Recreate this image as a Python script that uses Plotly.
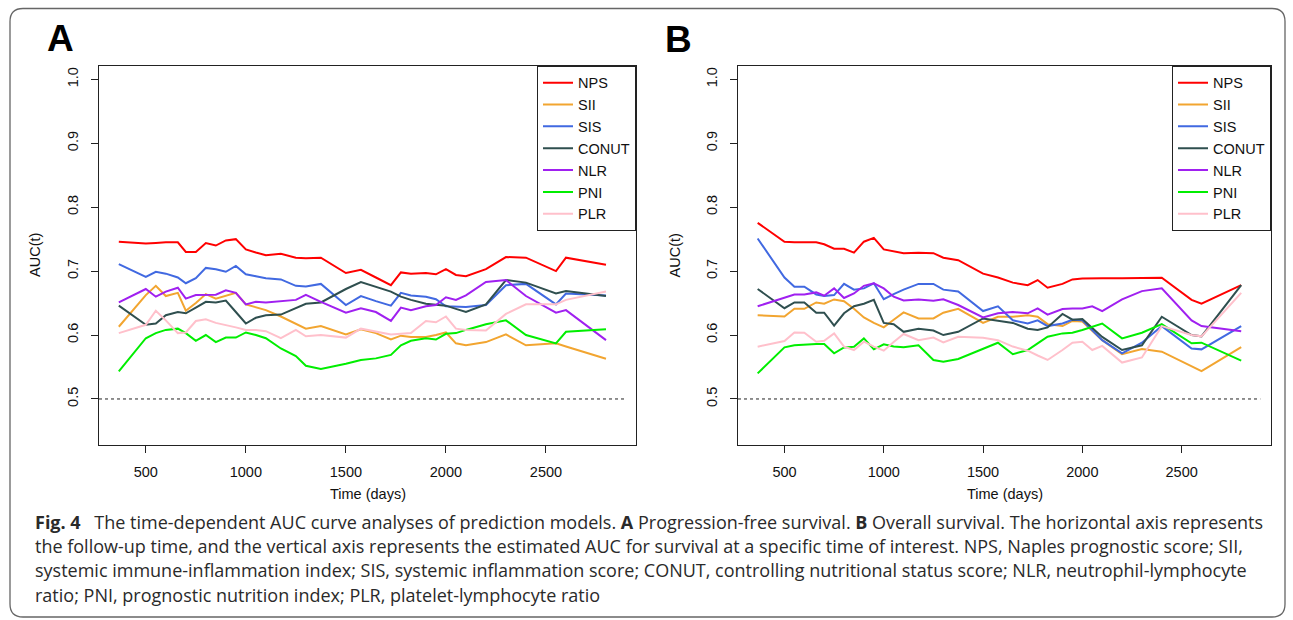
import plotly.graph_objects as go

# ---------------- data ----------------
TIMES = [365, 500, 550, 600, 660, 700, 750, 800, 850, 900, 950, 1000, 1050, 1100, 1175,
         1250, 1300, 1375, 1500, 1575, 1650, 1725, 1775, 1825, 1900, 1950, 2000, 2050,
         2100, 2200, 2300, 2400, 2550, 2600, 2800]

SERIES = ["NPS", "SII", "SIS", "CONUT", "NLR", "PNI", "PLR"]
COLORS = ["#FF0000", "#F2A530", "#4169E1", "#2F4F4F", "#A020F0", "#00EE00", "#FFC0CB"]

# Panel A: progression-free survival
NPS_A = [.746, .743, .744, .745, .745, .730, .730, .744, .740, .748, .750, .734, .729, .725, .727,
         .721, .720, .721, .697, .702, .690, .678, .698, .696, .697, .695, .703, .694,
         .692, .703, .722, .721, .700, .721, .710]
SII_A = [.613, .6625, .677, .661, .666, .638, .650, .664, .657, .662, .666, .648, .643, .639, .629,
         .617, .610, .614, .601, .609, .603, .593, .599, .597, .597, .600, .604, .587,
         .584, .589, .601, .584, .587, .582, .563]
SIS_A = [.711, .691, .699, .696, .690, .681, .689, .705, .703, .699, .708, .695, .692, .689, .687,
         .677, .676, .680, .647, .661, .653, .646, .666, .662, .660, .656, .645, .644,
         .644, .647, .678, .680, .648, .665, .662]
CONUT_A = [.646, .616, .618, .631, .636, .634, .643, .652, .651, .654, .636, .618, .627, .631, .632,
           .642, .649, .651, .672, .683, .675, .668, .660, .655, .649, .647, .646, .641,
           .636, .648, .686, .682, .665, .669, .661]
NLR_A = [.651, .672, .660, .668, .674, .657, .6625, .663, .663, .670, .666, .648, .652, .651, .653,
         .655, .663, .652, .635, .642, .636, .622, .643, .639, .645, .647, .659, .655,
         .662, .683, .686, .661, .635, .639, .592]
PNI_A = [.543, .595, .603, .608, .610, .603, .591, .600, .589, .596, .596, .604, .600, .595, .579,
         .567, .552, .547, .555, .561, .5635, .569, .584, .591, .595, .593, .602, .603,
         .608, .617, .623, .600, .587, .605, .609]
PLR_A = [.603, .616, .638, .623, .603, .604, .622, .6245, .619, .616, .612, .608, .608, .606, .595,
         .608, .598, .600, .596, .610, .605, .601, .602, .603, .622, .620, .629, .610,
         .608, .607, .633, .648, .648, .655, .668]

# Panel B: overall survival
NPS_B = [.7755, .746, .745, .745, .745, .742, .735, .735, .729, .746, .752, .734, .731, .728, .7286,
         .728, .721, .717, .696, .690, .682, .678, .686, .674, .680, .687, .6885, .689,
         .689, .689, .6895, .6896, .655, .649, .678]
SII_B = [.631, .629, .641, .641, .651, .649, .6557, .653, .641, .6276, .619, .612, .624, .6354, .626,
         .626, .635, .641, .619, .6286, .6286, .631, .6286, .617, .614, .622, .621, .606,
         .592, .570, .578, .574, .551, .5437, .581]
SIS_B = [.751, .690, .6755, .6755, .6635, .661, .6625, .680, .671, .673, .681, .656, .664, .671, .680,
         .680, .671, .668, .6375, .645, .623, .618, .623, .614, .618, .624, .623, .607,
         .592, .5714, .588, .614, .579, .5776, .614]
CONUT_B = [.672, .642, .651, .651, .635, .635, .6146, .634, .645, .649, .655, .619, .617, .605, .610,
           .607, .600, .605, .626, .622, .619, .610, .608, .612, .633, .624, .625, .611,
           .597, .5766, .584, .6286, .600, .598, .678]
NLR_B = [.645, .658, .6635, .6635, .6667, .6615, .673, .658, .665, .677, .681, .673, .660, .654, .6557,
         .6536, .656, .647, .6276, .634, .636, .634, .6417, .632, .6406, .6417, .6417, .645,
         .6375, .6557, .6687, .673, .623, .614, .606]
PNI_B = [.540, .5807, .584, .5854, .586, .586, .5714, .5807, .5818, .5948, .5776, .5854, .582, .581, .584,
         .561, .5583, .5625, .579, .588, .570, .5766, .587, .5974, .6026, .6036, .6078, .613,
         .618, .5948, .6036, .617, .587, .588, .560]
PLR_B = [.5818, .5906, .604, .6036, .5896, .591, .6026, .5818, .5766, .5896, .5818, .5755, .589, .6016, .592,
         .596, .5885, .5974, .5958, .592, .582, .5755, .568, .561, .5766, .588, .5896, .5766,
         .583, .557, .565, .614, .600, .598, .666]

PANEL_A = [NPS_A, SII_A, SIS_A, CONUT_A, NLR_A, PNI_A, PLR_A]
PANEL_B = [NPS_B, SII_B, SIS_B, CONUT_B, NLR_B, PNI_B, PLR_B]

X_TICKS = [500, 1000, 1500, 2000, 2500]
Y_TICKS = [0.5, 0.6, 0.7, 0.8, 0.9, 1.0]
Y_TICK_LABELS = ["0.5", "0.6", "0.7", "0.8", "0.9", "1.0"]
REF_AUC = 0.5

CAPTION = [
    "<b>Fig. 4</b>\u2002 The time-dependent AUC curve analyses of prediction models. <b>A</b> Progression-free survival. <b>B</b> Overall survival. The horizontal axis represents",
    "the follow-up time, and the vertical axis represents the estimated AUC for survival at a specific time of interest. NPS, Naples prognostic score; SII,",
    "systemic immune-inflammation index; SIS, systemic inflammation score; CONUT, controlling nutritional status score; NLR, neutrophil-lymphocyte",
    "ratio; PNI, prognostic nutrition index; PLR, platelet-lymphocyte ratio",
]

# ---------------- layout helpers ----------------
W, H = 1293, 620
def px(x):
    return x / W
def py(y):
    return 1 - y / H

FONT = "Liberation Sans, Arial, sans-serif"
CAP_FONT = "Open Sans, Noto Sans, sans-serif"

fig = go.Figure()
for panel, (data, xa, ya, leg) in enumerate([(PANEL_A, "x", "y", "legend"), (PANEL_B, "x2", "y2", "legend2")]):
    for name, color, vals in zip(SERIES, COLORS, data):
        fig.add_trace(go.Scatter(
            x=TIMES, y=vals, mode="lines", name=name,
            line=dict(color=color, width=2),
            xaxis=xa, yaxis=ya, legend=leg, hoverinfo="skip"))

axis_common = dict(showline=True, linecolor="#222", linewidth=1, mirror=True,
                   ticks="outside", ticklen=7, tickwidth=1, tickcolor="#222",
                   showgrid=False, zeroline=False,
                   tickfont=dict(family=FONT, size=14.5, color="#111"))
XR = [266, 2950]
YR = [0.428, 1.0213]
YDOM = [py(445), py(65.7)]

fig.update_layout(
    width=W, height=H, margin=dict(l=0, r=0, t=0, b=0),
    paper_bgcolor="white", plot_bgcolor="white",
    xaxis=dict(domain=[px(99), px(636)], range=XR, tickvals=X_TICKS, ticklabelstandoff=7, anchor="y", **axis_common),
    yaxis=dict(domain=YDOM, range=YR, tickvals=Y_TICKS, ticktext=Y_TICK_LABELS, tickangle=-90,
               ticklabelstandoff=7, anchor="x", **axis_common),
    xaxis2=dict(domain=[px(738), px(1271)], range=XR, tickvals=X_TICKS, ticklabelstandoff=7, anchor="y2", **axis_common),
    yaxis2=dict(domain=YDOM, range=YR, tickvals=Y_TICKS, ticktext=Y_TICK_LABELS, tickangle=-90,
                ticklabelstandoff=7, anchor="x2", **axis_common),
    legend=dict(x=px(636), xanchor="right", y=py(65.7), yanchor="top",
                bordercolor="#222", borderwidth=1, bgcolor="white",
                font=dict(family=FONT, size=14.5, color="#111"), itemwidth=30, tracegroupgap=0),
    legend2=dict(x=px(1271), xanchor="right", y=py(65.7), yanchor="top",
                 bordercolor="#222", borderwidth=1, bgcolor="white",
                 font=dict(family=FONT, size=14.5, color="#111"), itemwidth=30, tracegroupgap=0),
    showlegend=True,
)

# reference lines at AUC = 0.5
for xa, ya in [("x", "y"), ("x2", "y2")]:
    fig.add_shape(type="line", xref=f"{xa} domain", yref=ya, x0=0, x1=0.98, y0=REF_AUC, y1=REF_AUC,
                  line=dict(color="#222", width=1, dash="3px,3px"))

# rounded border around the figure
x0, x1, y0, y1, r = 10, 1285, 8.5, 617, 13
path = (f"M {px(x0 + r)},{py(y0)} L {px(x1 - r)},{py(y0)} Q {px(x1)},{py(y0)} {px(x1)},{py(y0 + r)} "
        f"L {px(x1)},{py(y1 - r)} Q {px(x1)},{py(y1)} {px(x1 - r)},{py(y1)} "
        f"L {px(x0 + r)},{py(y1)} Q {px(x0)},{py(y1)} {px(x0)},{py(y1 - r)} "
        f"L {px(x0)},{py(y0 + r)} Q {px(x0)},{py(y0)} {px(x0 + r)},{py(y0)} Z")
fig.add_shape(type="path", xref="paper", yref="paper", path=path, line=dict(color="#666", width=1.3))

ann = []
# panel letters
ann.append(dict(x=px(60.5), y=py(39), text="<b>A</b>", font=dict(family=FONT, size=37, color="black")))
ann.append(dict(x=px(679), y=py(40), text="<b>B</b>", font=dict(family=FONT, size=37, color="black")))
# axis titles
for cx, ax in [(367.5, 35.5), (1004.5, 675)]:
    ann.append(dict(x=px(cx), y=py(494), text="Time (days)", font=dict(family=FONT, size=14.5, color="#111")))
    ann.append(dict(x=px(ax), y=py(255.4), text="AUC(t)", textangle=-90, font=dict(family=FONT, size=14.5, color="#111")))
# caption
for i, line in enumerate(CAPTION):
    ann.append(dict(x=px(33), y=py(521.7 + i * 24.3), text=line, xanchor="left",
                    font=dict(family=CAP_FONT, size=18, color="#2a2a2a")))
for a in ann:
    a.setdefault("xanchor", "center")
    a.update(xref="paper", yref="paper", yanchor="middle", showarrow=False)
fig.update_layout(annotations=ann)

fig.write_html("out.html")
